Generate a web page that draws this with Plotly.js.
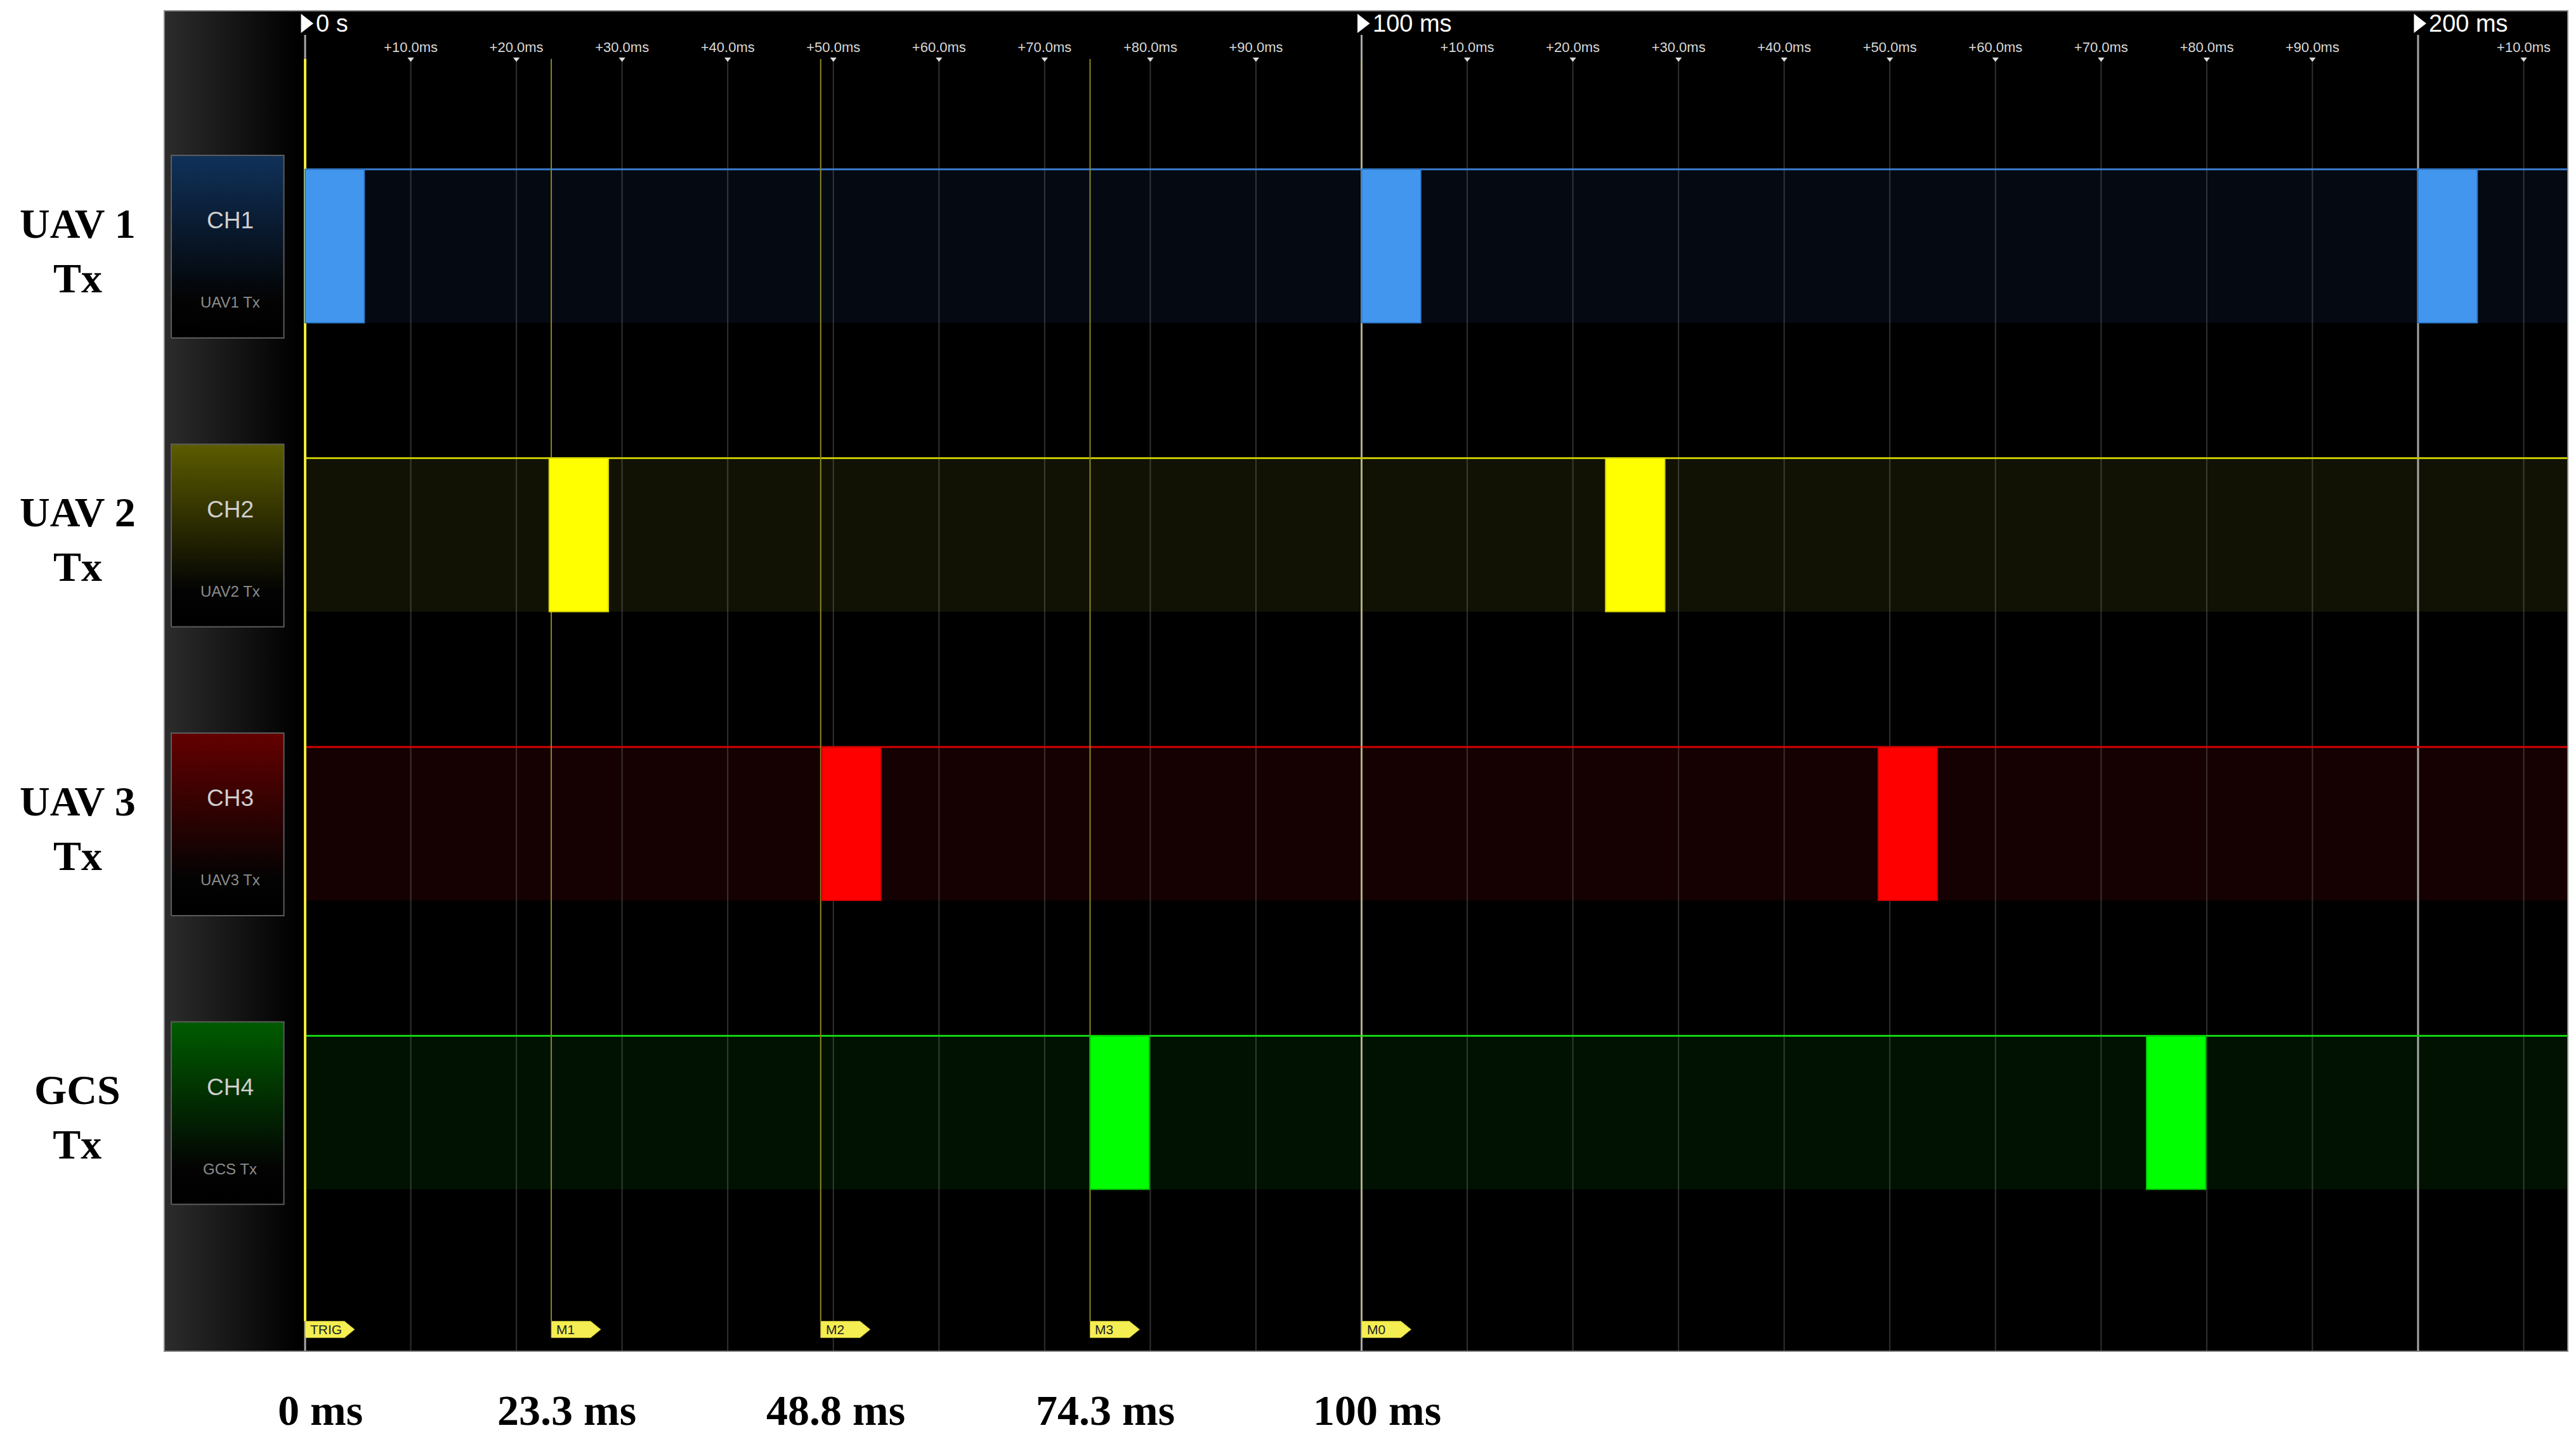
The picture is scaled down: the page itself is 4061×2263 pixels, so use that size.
<!DOCTYPE html>
<html>
<head>
<meta charset="utf-8">
<script src="https://cdn.plot.ly/plotly-3.0.1.min.js"></script>
<style>
  html, body { margin: 0; padding: 0; background: #fff; }
  #grafica { width: 4061px; height: 2263px; }
</style>
</head>
<body>
<div id="grafica"></div>
<script>
const canales = ['CH1', 'CH2', 'CH3', 'CH4'];
const nombresCanal = ['UAV1 Tx', 'UAV2 Tx', 'UAV3 Tx', 'GCS Tx'];
const etiquetasFila = ['UAV 1<br>Tx', 'UAV 2<br>Tx', 'UAV 3<br>Tx', 'GCS<br>Tx'];

const pulsosUAV1 = [0, 100, 200];
const pulsosUAV2 = [23.1, 123.1];
const pulsosUAV3 = [48.9, 148.9];
const pulsosGCS = [74.3, 174.3];
const anchoPulso = 5.6;
const nivelAlto = 1;

const marcadoresMs = [0, 23.3, 48.8, 74.3, 100];
const marcadoresTxt = ['TRIG', 'M1', 'M2', 'M3', 'M0'];

const divisionesMs = [0, 100, 200];
const divisionesTxt = ['0 s', '100 ms', '200 ms'];

const ticksMs = [10, 20, 30, 40, 50, 60, 70, 80, 90, 110, 120, 130, 140, 150, 160, 170, 180, 190, 210];
const ticksTxt = ['+10.0ms', '+20.0ms', '+30.0ms', '+40.0ms', '+50.0ms', '+60.0ms', '+70.0ms', '+80.0ms', '+90.0ms',
    '+10.0ms', '+20.0ms', '+30.0ms', '+40.0ms', '+50.0ms', '+60.0ms', '+70.0ms', '+80.0ms', '+90.0ms', '+10.0ms'];

const pulsos = [pulsosUAV1, pulsosUAV2, pulsosUAV3, pulsosGCS];

// Estilo y geometria
const colorPulso = ['#4396ee', '#ffff00', '#ff0000', '#00ff00'];
const colorBorde = ['#2f78c8', '#d8d800', '#c80000', '#00c800'];
const colorLinea = ['#3b7dd0', '#c4c400', '#d80000', '#12d012'];
const colorBanda = ['#040912', '#121204', '#150101', '#021202'];
const colorCaja = ['#10315a', '#5c5c00', '#640000', '#005c00'];

const rangoX = [-13.27, 214.11];
const rangoY = [0, 8.727];
const PASO_FILA = 1.882;
const BASE_FILA = 1.052;
const Y_TICK = 8.417;
const Y_DIV = 8.649;
const Y_TOPE_DIV = 8.574;
const Y_BANDERA = 0.138;
const Y_TOPE_BANDERA = 0.192;
const CAJA_X = [-12.67, -2.01];
const FIN_FRANJA = -0.6;

const fuenteSans = 'Liberation Sans Narrow, Liberation Sans, Arial, sans-serif';
const fuenteSerif = 'Liberation Serif, Times New Roman, serif';

function nivelBajo(i) {
    return BASE_FILA + (canales.length - 1 - i) * PASO_FILA;
}

const trazas = [];
const formas = [];
const notas = [];

// Franja gris a la izquierda
trazas.push({
    type: 'scatter',
    x: [rangoX[0], FIN_FRANJA, FIN_FRANJA, rangoX[0], rangoX[0]],
    y: [rangoY[0], rangoY[0], rangoY[1], rangoY[1], rangoY[0]],
    mode: 'none',
    fill: 'toself',
    fillgradient: { type: 'horizontal', colorscale: [[0, '#2c2c2c'], [1, '#000000']] },
    hoverinfo: 'skip',
    showlegend: false
});

// Bandas de cada canal
canales.forEach((c, i) => {
    const bajo = nivelBajo(i);
    formas.push({
        type: 'rect', layer: 'below', xref: 'x', yref: 'y',
        x0: 0, x1: rangoX[1], y0: bajo, y1: bajo + nivelAlto,
        fillcolor: colorBanda[i], line: { width: 0 }
    });
});

// Rejilla cada 10 ms
ticksMs.forEach(t => {
    formas.push({
        type: 'line', layer: 'below', xref: 'x', yref: 'y',
        x0: t, x1: t, y0: rangoY[0], y1: Y_TICK,
        line: { color: 'rgba(150,150,150,0.32)', width: 2 }
    });
});

// Divisiones principales
divisionesMs.forEach(t => {
    formas.push({
        type: 'line', layer: 'below', xref: 'x', yref: 'y',
        x0: t, x1: t, y0: rangoY[0], y1: Y_TOPE_DIV,
        line: { color: '#a8a8a8', width: 3 }
    });
});

// Linea de nivel alto
canales.forEach((c, i) => {
    const alto = nivelBajo(i) + nivelAlto;
    formas.push({
        type: 'line', layer: 'below', xref: 'x', yref: 'y',
        x0: 0, x1: rangoX[1], y0: alto, y1: alto,
        line: { color: colorLinea[i], width: 3 }
    });
});

// Marcadores (TRIG, M1...)
marcadoresMs.forEach((m, k) => {
    const esTrig = k === 0;
    formas.push({
        type: 'line', layer: 'below', xref: 'x', yref: 'y',
        x0: m, x1: m, y0: Y_TOPE_BANDERA, y1: Y_TICK,
        line: { color: esTrig ? '#f2ea3c' : (m === 100 ? '#b8b460' : '#8a8626'), width: esTrig ? 4 : 2 }
    });
    formas.push({
        type: 'path', layer: 'below', xref: 'x', yref: 'y',
        xsizemode: 'pixel', ysizemode: 'pixel', xanchor: m, yanchor: Y_BANDERA,
        path: 'M0,-13 L62,-13 L78,0 L62,13 L0,13 Z',
        fillcolor: '#f4ee52', line: { color: '#b8b030', width: 1 }
    });
    notas.push({
        xref: 'x', yref: 'y', x: m, y: Y_BANDERA, xanchor: 'left', yanchor: 'middle',
        xshift: 6, showarrow: false, text: marcadoresTxt[k],
        font: { family: fuenteSans, size: 21, color: '#222' }
    });
    notas.push({
        xref: 'x', yref: 'paper', x: m, y: -0.0445, xanchor: 'center', yanchor: 'middle',
        xshift: 24, showarrow: false, text: m + ' ms',
        font: { family: fuenteSerif, size: 68, color: '#000', weight: 'bold' }
    });
});

// Cajas de canal
canales.forEach((c, i) => {
    const bajo = nivelBajo(i);
    const arriba = bajo + nivelAlto + 0.091;
    const abajo = bajo - 0.099;
    trazas.push({
        type: 'scatter',
        x: [CAJA_X[0], CAJA_X[1], CAJA_X[1], CAJA_X[0], CAJA_X[0]],
        y: [abajo, abajo, arriba, arriba, abajo],
        mode: 'lines',
        line: { color: '#5c5c5c', width: 2 },
        fill: 'toself',
        fillgradient: { type: 'vertical', colorscale: [[0, '#000000'], [0.2, '#030303'], [1, colorCaja[i]]] },
        hoverinfo: 'skip',
        showlegend: false
    });
    const centro = (CAJA_X[0] + CAJA_X[1]) / 2;
    notas.push({
        xref: 'x', yref: 'y', x: centro, y: bajo + nivelAlto - 0.334, showarrow: false,
        xshift: 4,
        text: c, font: { family: 'Liberation Sans, Arial, sans-serif', size: 37, color: '#cfcfcf' }
    });
    notas.push({
        xref: 'x', yref: 'y', x: centro, y: bajo + 0.133, showarrow: false,
        xshift: 4,
        text: nombresCanal[i], font: { family: 'Liberation Sans, Arial, sans-serif', size: 24, color: '#8c8c8c' }
    });
    notas.push({
        xref: 'paper', yref: 'y', x: -0.0364, y: bajo + 0.47, xanchor: 'center', yanchor: 'middle',
        showarrow: false, text: etiquetasFila[i],
        font: { family: fuenteSerif, size: 66, color: '#000', weight: 'bold' }
    });
});

// Pulsos transmitidos
pulsos.forEach((p, i) => {
    trazas.push({
        type: 'bar',
        x: p,
        y: p.map(() => nivelAlto),
        base: nivelBajo(i),
        width: anchoPulso,
        offset: 0,
        marker: { color: colorPulso[i], line: { color: colorBorde[i], width: 2 } },
        hoverinfo: 'skip',
        showlegend: false
    });
});

// Triangulos de las marcas de tiempo
trazas.push({
    type: 'scatter', mode: 'markers',
    x: ticksMs, y: ticksMs.map(() => Y_TICK),
    marker: { symbol: 'triangle-down', size: 9, color: '#dddddd' },
    hoverinfo: 'skip', showlegend: false, cliponaxis: false
});
trazas.push({
    type: 'scatter', mode: 'markers',
    x: divisionesMs, y: divisionesMs.map(() => Y_DIV),
    marker: { symbol: 'triangle-right', size: 26, color: '#ffffff' },
    hoverinfo: 'skip', showlegend: false, cliponaxis: false
});
divisionesMs.forEach((t, k) => {
    notas.push({
        xref: 'x', yref: 'y', x: t, y: Y_DIV, xanchor: 'left', yanchor: 'middle',
        xshift: 15, showarrow: false, text: divisionesTxt[k],
        font: { family: fuenteSans, size: 38, color: '#ffffff' }
    });
});

const layout = {
    width: 4061,
    height: 2263,
    margin: { l: 260, r: 14, t: 18, b: 133 },
    paper_bgcolor: '#ffffff',
    plot_bgcolor: '#000000',
    barmode: 'overlay',
    showlegend: false,
    xaxis: {
        range: rangoX,
        side: 'top',
        tickmode: 'array',
        tickvals: ticksMs,
        ticktext: ticksTxt,
        ticks: '',
        ticklabelposition: 'inside',
        ticklabelstandoff: 50,
        tickfont: { family: fuenteSans, size: 22, color: '#d8d8d8' },
        showgrid: false,
        zeroline: false,
        showline: true,
        mirror: true,
        linecolor: '#8a8a8a',
        linewidth: 2
    },
    yaxis: {
        range: rangoY,
        showticklabels: false,
        ticks: '',
        showgrid: false,
        zeroline: false,
        showline: true,
        mirror: true,
        linecolor: '#8a8a8a',
        linewidth: 2
    },
    shapes: formas,
    annotations: notas
};

Plotly.newPlot('grafica', trazas, layout, { displayModeBar: false, staticPlot: true });
</script>
</body>
</html>
